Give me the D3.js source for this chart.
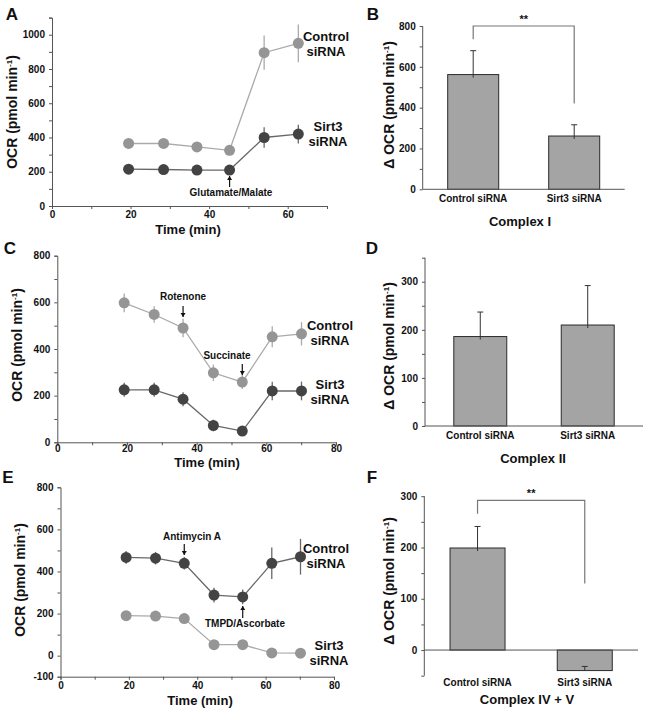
<!DOCTYPE html>
<html><head><meta charset="utf-8">
<script src="https://cdn.jsdelivr.net/npm/d3@7/dist/d3.min.js"></script>
<style>
body{margin:0;background:#fff;}
svg text{font-family:"Liberation Sans",Arial,sans-serif;font-weight:bold;fill:#111;}
</style></head>
<body><svg id="c" width="645" height="714"></svg>
<script>
// ---------- DATA ----------
const timeA = [19.5, 28.4, 36.9, 45.2, 54.0, 62.7];
const ctrlA = [365, 365, 345, 325, 895, 950];
const ctrlAErr = [15, 15, 15, 12, 100, 110];
const sirtA = [215, 213, 210, 210, 400, 420];
const sirtAErr = [12, 12, 10, 10, 60, 55];

const timeC = [19.2, 27.8, 36.1, 44.8, 53.1, 61.7, 70.1];
const ctrlC = [598, 548, 490, 298, 258, 452, 465];
const ctrlCErr = [40, 35, 40, 35, 30, 45, 50];
const sirtC = [225, 225, 185, 72, 48, 220, 220];
const sirtCErr = [30, 30, 30, 25, 15, 40, 40];

const timeE = [19.2, 27.8, 36.2, 44.9, 53.3, 61.8, 70.2];
const ctrlE = [467, 463, 439, 288, 279, 439, 470];
const ctrlEErr = [30, 30, 30, 35, 35, 75, 85];
const sirtE = [190, 188, 176, 52, 52, 13, 12];
const sirtEErr = [5, 5, 5, 5, 5, 5, 5];

const categories = ["Control siRNA", "Sirt3 siRNA"];
const barB = [562, 261];
const barBErr = [117, 55];
const barD = [186, 210];
const barDErr = [51, 82];
const barF = [199, -40];
const barFErr = [42, 8];

const xTicksMajor = [0, 20, 40, 60, 80];
const yTicksA = [0, 200, 400, 600, 800, 1000];
const yTicksC = [0, 200, 400, 600, 800];
const yTicksE = [-100, 0, 200, 400, 600, 800];
const yTicksB = [0, 200, 400, 600, 800];
const yTicksD = [0, 100, 200, 300];
const yTicksF = [0, 100, 200, 300];

// ---------- DRAW ----------
const svg = d3.select("#c");
const LIGHT = "#959595", LIGHTLINE = "#aaaaaa";
const DARK = "#434343", DARKLINE = "#686868";
const AX = "#555";

function yLabel(g, x, y, size) {
  return g.append("text").attr("transform", `translate(${x},${y}) rotate(-90)`)
    .attr("text-anchor", "middle").style("font-size", size + "px");
}
function addOCR(t, delta) {
  t.append("tspan").text((delta ? "\u0394 " : "") + "OCR (pmol min");
  t.append("tspan").text("-1").attr("dy", -5).style("font-size", "8px");
  t.append("tspan").text(")").attr("dy", 5);
}
function styleAxis(a) {
  a.select(".domain").attr("stroke", AX);
  a.selectAll(".tick line").attr("stroke", AX);
  a.selectAll(".tick text").style("font-size", "10px").attr("fill", "#111");
}

function linePanel(cfg) {
  const x = d3.scaleLinear().domain(cfg.xdom).range(cfg.xr);
  const y = d3.scaleLinear().domain(cfg.ydom).range(cfg.yr);
  const g = svg.append("g");
  const xt = d3.range(cfg.xdom[0], cfg.xdom[1] + 1, 10);
  const ax = g.append("g").attr("transform", `translate(0,${cfg.yr[0]})`)
    .call(d3.axisBottom(x).tickValues(xt).tickSize(3).tickPadding(cfg.xpad)
      .tickFormat(d => xTicksMajor.includes(d) ? d : ""));
  styleAxis(ax);
  const yt = d3.range(cfg.ydom[0], cfg.ydom[1] + 1, 100);
  const ay = g.append("g").attr("transform", `translate(${cfg.xr[0]},0)`)
    .call(d3.axisLeft(y).tickValues(yt).tickSize(3).tickPadding(4)
      .tickFormat(d => cfg.yMajor.includes(d) ? d : ""));
  styleAxis(ay);
  cfg.series.forEach(s => {
    const pts = cfg.time.map((t, i) => ({t, v: s.vals[i], e: s.err[i]}));
    g.append("path").datum(pts)
      .attr("d", d3.line().x(d => x(d.t)).y(d => y(d.v)))
      .attr("fill", "none").attr("stroke", s.line).attr("stroke-width", 1.3);
    g.selectAll(null).data(pts).enter().append("line")
      .attr("x1", d => x(d.t)).attr("x2", d => x(d.t))
      .attr("y1", d => y(d.v - d.e)).attr("y2", d => y(d.v + d.e))
      .attr("stroke", s.line).attr("stroke-width", 1.3);
    g.selectAll(null).data(pts).enter().append("circle")
      .attr("cx", d => x(d.t)).attr("cy", d => y(d.v)).attr("r", 5.5)
      .attr("fill", s.color);
  });
  cfg.labels.forEach(l => {
    const t = g.append("text").attr("x", l.x).attr("y", l.y).attr("text-anchor", "middle")
      .style("font-size", "13px");
    t.append("tspan").attr("x", l.x).text(l.t1);
    t.append("tspan").attr("x", l.x).attr("dy", 15).text("siRNA");
  });
  cfg.ann.forEach(a => {
    g.append("text").attr("x", a.tx).attr("y", a.ty).attr("text-anchor", "middle")
      .style("font-size", "10px").text(a.text);
    const ax0 = x(a.t);
    g.append("line").attr("x1", ax0).attr("x2", ax0).attr("y1", a.y1).attr("y2", a.y2)
      .attr("stroke", "#111").attr("stroke-width", 1.2);
    const dir = a.y2 > a.y1 ? 1 : -1;
    g.append("path").attr("d", `M${ax0 - 2.5},${a.y2 - dir * 4}L${ax0},${a.y2}L${ax0 + 2.5},${a.y2 - dir * 4}Z`)
      .attr("fill", "#111");
  });
  g.append("text").attr("x", cfg.xtitle[0]).attr("y", cfg.xtitle[1]).attr("text-anchor", "middle")
    .style("font-size", "13px").text("Time (min)");
  addOCR(yLabel(g, cfg.ytitle[0], cfg.ytitle[1], 14), false);
}

function barPanel(cfg) {
  const x = d3.scaleBand().domain(categories).range(cfg.xr)
    .paddingInner(cfg.pi).paddingOuter(cfg.po);
  const y = d3.scaleLinear().domain(cfg.ydom).range(cfg.yr);
  const g = svg.append("g");
  const yt = d3.range(cfg.ydom[0], cfg.ydom[1] + 1, cfg.minor);
  const ay = g.append("g").attr("transform", `translate(${cfg.xr[0]},0)`)
    .call(d3.axisLeft(y).tickValues(yt).tickSize(3).tickPadding(4)
      .tickFormat(d => cfg.yMajor.includes(d) ? d : ""));
  styleAxis(ay);
  ay.select(".domain").attr("d", `M0,${cfg.yr[0]}V${cfg.yr[1]}`);
  categories.forEach((c, i) => {
    const v = cfg.vals[i], e = cfg.err[i];
    const cx = x(c) + x.bandwidth() / 2;
    g.append("line").attr("x1", cx).attr("x2", cx).attr("y1", y(v)).attr("y2", y(v + e))
      .attr("stroke", "#333").attr("stroke-width", 1);
    g.append("line").attr("x1", cx - 3).attr("x2", cx + 3).attr("y1", y(v + e)).attr("y2", y(v + e))
      .attr("stroke", "#333").attr("stroke-width", 1);
    g.append("rect").attr("x", x(c)).attr("width", x.bandwidth())
      .attr("y", y(Math.max(0, v))).attr("height", Math.abs(y(v) - y(0)))
      .attr("fill", "#a4a4a4").attr("stroke", "#2a2a2a").attr("stroke-width", 1);
    if (v >= 0) {
      g.append("line").attr("x1", cx).attr("x2", cx).attr("y1", y(v)).attr("y2", y(v) + 3)
        .attr("stroke", "#333").attr("stroke-width", 1);
    } else {
      g.append("line").attr("x1", cx).attr("x2", cx).attr("y1", y(v)).attr("y2", y(v + e))
        .attr("stroke", "#333").attr("stroke-width", 1);
      g.append("line").attr("x1", cx - 3).attr("x2", cx + 3).attr("y1", y(v + e)).attr("y2", y(v + e))
        .attr("stroke", "#333").attr("stroke-width", 1);
    }
    g.append("text").attr("x", cx).attr("y", cfg.catY).attr("text-anchor", "middle")
      .style("font-size", "10px").text(c);
  });
  g.append("line").attr("x1", cfg.xr[0]).attr("x2", cfg.xr[1]).attr("y1", y(0)).attr("y2", y(0))
    .attr("stroke", AX).attr("stroke-width", 1);
  if (cfg.bracket) {
    const b = cfg.bracket;
    const x1 = x(categories[0]) + x.bandwidth() / 2, x2 = x(categories[1]) + x.bandwidth() / 2;
    g.append("path").attr("d", `M${x1},${y(b.l)}V${y(b.top)}H${x2}V${y(b.r)}`)
      .attr("fill", "none").attr("stroke", "#777").attr("stroke-width", 1.2);
    g.append("text").attr("x", (x1 + x2) / 2).attr("y", y(b.top) - 3).attr("text-anchor", "middle")
      .style("font-size", "11px").text("**");
  }
  g.append("text").attr("x", cfg.title[0]).attr("y", cfg.title[1]).attr("text-anchor", "middle")
    .style("font-size", "13px").text(cfg.titleText);
  addOCR(yLabel(g, cfg.ytitle[0], cfg.ytitle[1], 14), true);
}

linePanel({
  xdom: [0, 70], xr: [52, 327], ydom: [0, 1100], yr: [206, 17.6], yMajor: yTicksA, xpad: 2,
  time: timeA,
  series: [
    {vals: ctrlA, err: ctrlAErr, color: LIGHT, line: LIGHTLINE},
    {vals: sirtA, err: sirtAErr, color: DARK, line: DARKLINE}],
  labels: [{x: 326, y: 41, t1: "Control"}, {x: 328, y: 131, t1: "Sirt3"}],
  ann: [{text: "Glutamate/Malate", tx: 231, ty: 196, t: 45.2, y1: 187, y2: 176}],
  xtitle: [188, 234], ytitle: [17, 112]
});
linePanel({
  xdom: [0, 80], xr: [57.3, 336], ydom: [0, 800], yr: [442.3, 255.7], yMajor: yTicksC, xpad: 0,
  time: timeC,
  series: [
    {vals: ctrlC, err: ctrlCErr, color: LIGHT, line: LIGHTLINE},
    {vals: sirtC, err: sirtCErr, color: DARK, line: DARKLINE}],
  labels: [{x: 330, y: 330, t1: "Control"}, {x: 330, y: 389, t1: "Sirt3"}],
  ann: [{text: "Rotenone", tx: 183, ty: 300, t: 36.1, y1: 306, y2: 317},
        {text: "Succinate", tx: 227, ty: 359, t: 53.1, y1: 364, y2: 375}],
  xtitle: [207, 467], ytitle: [22, 345]
});
linePanel({
  xdom: [0, 80], xr: [60.5, 334], ydom: [-100, 800], yr: [676.7, 487.3], yMajor: yTicksE, xpad: 2,
  time: timeE,
  series: [
    {vals: ctrlE, err: ctrlEErr, color: DARK, line: DARKLINE},
    {vals: sirtE, err: sirtEErr, color: LIGHT, line: LIGHTLINE}],
  labels: [{x: 326, y: 553, t1: "Control"}, {x: 329, y: 650, t1: "Sirt3"}],
  ann: [{text: "Antimycin A", tx: 192, ty: 540, t: 36.2, y1: 544, y2: 555},
        {text: "TMPD/Ascorbate", tx: 245, ty: 627, t: 53.3, y1: 618, y2: 606}],
  xtitle: [200, 705], ytitle: [25, 580]
});
barPanel({
  xr: [422.7, 624.7], pi: 0.495, po: 0.2475, ydom: [0, 800], yr: [189.3, 26], minor: 100,
  yMajor: yTicksB, vals: barB, err: barBErr, catY: 202,
  bracket: {top: 800, l: 735, r: 420},
  title: [520, 226], titleText: "Complex I", ytitle: [394, 105]
});
barPanel({
  xr: [425, 643], pi: 0.507, po: 0.268, ydom: [0, 350], yr: [426, 257.7], minor: 50,
  yMajor: yTicksD, vals: barD, err: barDErr, catY: 439,
  title: [533, 463], titleText: "Complex II", ytitle: [394, 346]
});
barPanel({
  xr: [424.3, 638], pi: 0.487, po: 0.24, ydom: [-50, 300], yr: [675.7, 496.2], minor: 50,
  yMajor: yTicksF, vals: barF, err: barFErr, catY: 686,
  bracket: {top: 292, l: 266, r: 130},
  title: [527, 704], titleText: "Complex IV + V", ytitle: [394, 581]
});

[["A", 12, 20], ["B", 373, 20], ["C", 10, 254], ["D", 372, 254], ["E", 8, 483], ["F", 372, 483]]
  .forEach(([t, x, y]) => svg.append("text").attr("x", x).attr("y", y).attr("text-anchor", "middle")
    .style("font-size", "17px").text(t));
</script></body></html>
